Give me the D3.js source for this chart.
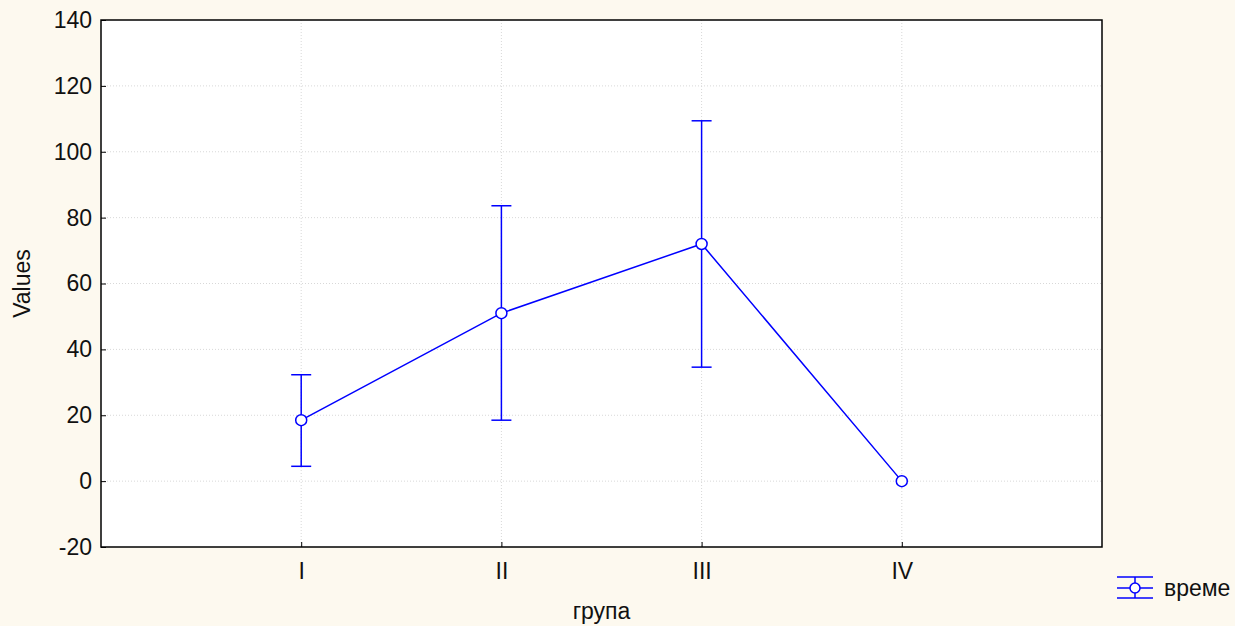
<!DOCTYPE html>
<html>
<head>
<meta charset="utf-8">
<script src="https://cdn.jsdelivr.net/npm/d3@7/dist/d3.min.js"></script>
<style>
  body { margin: 0; background: #fdf9ef; }
  svg { display: block; font-family: "Liberation Sans", Arial, sans-serif; }
  .grid line { stroke: #d8d8d8; stroke-dasharray: 1,2; }
</style>
</head>
<body>
<svg id="chart" width="1235" height="626"></svg>
<script>
// data
let groups = ["I", "II", "III", "IV"];
let means  = [18.5, 51, 72, 0];
let upper  = [32.3, 83.6, 109.4, 0];
let lower  = [4.5, 18.5, 34.6, 0];
let y_ticks = [-20, 0, 20, 40, 60, 80, 100, 120, 140];

let svg = d3.select("#chart");

let margin = {top: 20, right: 133, bottom: 79, left: 101},
    width  = 1235 - margin.left - margin.right,
    height = 626 - margin.top - margin.bottom,
    font_size = 23;

let x = d3.scaleLinear().domain([0, groups.length + 1]).range([0, width]),
    y = d3.scaleLinear().domain([-20, 140]).range([height, 0]);

let g = svg.append("g").attr("transform", `translate(${margin.left}, ${margin.top})`);

// plot background
g.append("rect").attr("width", width).attr("height", height).attr("fill", "#ffffff");

// grid
g.append("g").classed("grid", true)
    .selectAll("line").data(y_ticks.slice(1, -1)).enter()
    .append("line")
    .attr("x1", 0).attr("x2", width)
    .attr("y1", (d) => y(d)).attr("y2", (d) => y(d));

g.append("g").classed("grid", true)
    .selectAll("line").data(groups).enter()
    .append("line")
    .attr("x1", (d, i) => x(i + 1)).attr("x2", (d, i) => x(i + 1))
    .attr("y1", 0).attr("y2", height);

// axes (ticks pointing inward)
let x_axis = g.append("g")
    .attr("transform", `translate(0, ${height})`)
    .call(d3.axisBottom(x).tickValues(groups.map((d, i) => i + 1))
        .tickFormat((d) => groups[d - 1]).tickSizeInner(-5).tickSizeOuter(0).tickPadding(16));

let y_axis = g.append("g")
    .call(d3.axisLeft(y).tickValues(y_ticks).tickFormat((d) => String(d))
        .tickSizeInner(-5).tickSizeOuter(0).tickPadding(9));

[x_axis, y_axis].forEach((a) => {
    a.select(".domain").remove();
    a.selectAll("text").attr("font-size", font_size).attr("fill", "#111");
    a.selectAll("line").attr("stroke", "#000");
});

// frame
g.append("rect").attr("width", width).attr("height", height)
    .attr("fill", "none").attr("stroke", "#000").attr("stroke-width", 1.5);

// error bars
let blue = "#0000ff";
let bars = g.append("g").selectAll("g.err")
    .data(groups.map((d, i) => ({i: i, lo: lower[i], hi: upper[i]})).filter((d) => d.hi !== d.lo))
    .enter().append("g").classed("err", true);

bars.append("line")
    .attr("x1", (d) => x(d.i + 1)).attr("x2", (d) => x(d.i + 1))
    .attr("y1", (d) => y(d.lo)).attr("y2", (d) => y(d.hi));
bars.append("line")
    .attr("x1", (d) => x(d.i + 1) - 10).attr("x2", (d) => x(d.i + 1) + 10)
    .attr("y1", (d) => y(d.hi)).attr("y2", (d) => y(d.hi));
bars.append("line")
    .attr("x1", (d) => x(d.i + 1) - 10).attr("x2", (d) => x(d.i + 1) + 10)
    .attr("y1", (d) => y(d.lo)).attr("y2", (d) => y(d.lo));
bars.selectAll("line").attr("stroke", blue).attr("stroke-width", 1.5);

// mean line
let line = d3.line().x((d, i) => x(i + 1)).y((d) => y(d));
g.append("path").datum(means)
    .attr("d", line).attr("fill", "none")
    .attr("stroke", blue).attr("stroke-width", 1.5);

g.selectAll("circle.mean").data(means).enter()
    .append("circle").classed("mean", true)
    .attr("cx", (d, i) => x(i + 1)).attr("cy", (d) => y(d))
    .attr("r", 5.5).attr("fill", "#fff")
    .attr("stroke", blue).attr("stroke-width", 1.5);

// axis labels
svg.append("text")
    .attr("transform", `translate(${margin.left + width / 2}, 619)`)
    .attr("text-anchor", "middle").attr("font-size", font_size).attr("fill", "#111")
    .text("група");

svg.append("text")
    .attr("transform", `translate(30, ${margin.top + height / 2}) rotate(-90)`)
    .attr("text-anchor", "middle").attr("font-size", font_size).attr("fill", "#111")
    .text("Values");

// legend
let lg = svg.append("g").attr("transform", "translate(1135, 588)");
[-11, 0, 10].forEach((dy) => {
    lg.append("line").attr("x1", -18).attr("x2", 18).attr("y1", dy).attr("y2", dy)
        .attr("stroke", blue).attr("stroke-width", 1.5);
});
lg.append("line").attr("x1", 0).attr("x2", 0).attr("y1", -11).attr("y2", 10)
    .attr("stroke", blue).attr("stroke-width", 1.5);
lg.append("circle").attr("r", 5).attr("fill", "#fff")
    .attr("stroke", blue).attr("stroke-width", 1.5);
lg.append("text").attr("x", 29).attr("y", 8)
    .attr("font-size", font_size).attr("fill", "#111").text("време");
</script>
</body>
</html>
